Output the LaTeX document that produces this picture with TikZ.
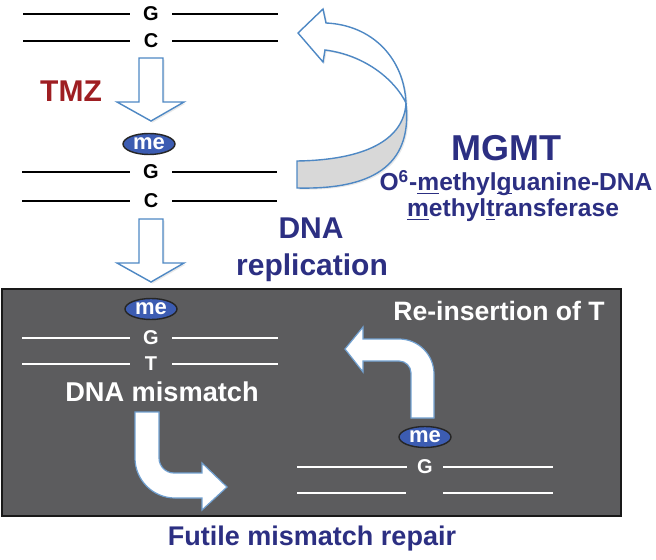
\documentclass[tikz,border=0pt]{standalone}
\usepackage{fontspec}
\setmainfont{Liberation Sans}
\usetikzlibrary{shapes.geometric,shadows}

\definecolor{navy}{RGB}{44,47,130}
\definecolor{tmzred}{RGB}{158,30,34}
\definecolor{arrowblue}{RGB}{78,136,196}
\definecolor{boxgray}{RGB}{92,92,94}
\definecolor{meblue}{RGB}{60,92,178}
\definecolor{ribbon}{RGB}{216,216,216}

\newcommand{\undl}[1]{\underline{\smash{#1}}}

\tikzset{
    strand/.style={line width=0.8pt},
    base/.style={font=\bfseries\fontsize{10}{10}\selectfont, inner sep=0pt, minimum width=21pt},
    meth/.style={ellipse, draw=black!85, line width=0.7pt, fill=meblue, text=white,
        font=\bfseries\fontsize{11}{11}\selectfont, minimum width=26pt, minimum height=10.5pt, inner sep=0pt},
    fatarrow/.style={draw=arrowblue, fill=white, line width=0.7pt, line join=miter,
        drop shadow={opacity=0.18, shadow xshift=0.8pt, shadow yshift=-0.8pt}},
    boxarrow/.style={draw=arrowblue!80, fill=white, line width=0.6pt},
    title/.style={font=\bfseries\fontsize{#1}{#1}\selectfont, text=navy, anchor=base, inner sep=0pt},
}

\begin{document}
\begin{tikzpicture}[x=0.5pt, y=-0.5pt]
    \useasboundingbox (0,0) rectangle (656,560);

    % panel
    \draw[fill=boxgray, draw=black!90, line width=0.7pt] (2,289) rectangle (621,516);

    % G-C pair
    \node[base] (g1) at (151,14) {G};
    \node[base] (c1) at (151,41) {C};
    \draw[strand] (23,14) -- (g1.west) (g1.east) -- (278,14);
    \draw[strand] (23,41) -- (c1.west) (c1.east) -- (278,41);

    \draw[fatarrow] (139,58) -- (163,58) -- (163,102) -- (184,102) -- (151,121) -- (117,102) -- (139,102) -- cycle;
    \node[font=\bfseries\fontsize{15}{15}\selectfont, text=tmzred, anchor=base, inner sep=0pt] (tmz) at (71,102) {TMZ};

    % methylated pair
    \node[meth] (me1) at (149,144) {me};
    \node[base] (g2) at (151,172) {G};
    \node[base] (c2) at (151,201) {C};
    \draw[strand] (22,172) -- (g2.west) (g2.east) -- (277,172);
    \draw[strand] (22,201) -- (c2.west) (c2.east) -- (277,201);

    \draw[fatarrow] (139,219) -- (163,219) -- (163,263) -- (184,263) -- (151,282) -- (117,263) -- (139,263) -- cycle;
    \node[title=15] (dna) at (311,239) {DNA};
    \node[title=15] (repl) at (312,276) {replication};

    % MGMT arrow
    \draw[fatarrow] (298,33) -- (323,9) -- (326,23) .. controls (372,25) and (404,58) .. (406,103)
        .. controls (395,80) and (365,55) .. (325,50) -- (323,62) -- cycle;
    \draw[fatarrow, fill=ribbon] (406,103) .. controls (404,140) and (365,160) .. (297,161) -- (297,188)
        .. controls (380,190) and (412,160) .. (406,103) -- cycle;

    \node[title=18] (mgmt) at (506,161) {MGMT};
    \node[title=12.3] (mgmtname) at (516,191) {O\textsuperscript{6}-\undl{m}ethyl\undl{g}uanine-DNA};
    \node[title=12.3] (mgmtname2) at (513,217) {\undl{m}ethyl\undl{t}ransferase};

    % mismatch
    \node[meth] (me2) at (151,309) {me};
    \node[base, text=white] (g3) at (151,338) {G};
    \node[base, text=white] (t3) at (151,364) {T};
    \draw[strand, white] (22,338) -- (g3.west) (g3.east) -- (278,338);
    \draw[strand, white] (22,364) -- (t3.west) (t3.east) -- (278,364);
    \node[font=\bfseries\fontsize{13.6}{13.6}\selectfont, text=white, anchor=base, inner sep=0pt] (mismatch) at (162,401) {DNA mismatch};

    \draw[boxarrow] (135,412) -- (159,412) -- (159,458) .. controls (159,466.3) and (165.7,473) .. (174,473)
        -- (202,473) -- (202,463) -- (227,487) -- (202,510) -- (202,498) -- (175,498)
        .. controls (153,498) and (135,480) .. (135,458) -- cycle;

    % repair
    \node[font=\bfseries\fontsize{13.3}{13.3}\selectfont, text=white, anchor=base, inner sep=0pt] (reins) at (499,320) {Re-insertion of T};
    \draw[boxarrow] (411,418) -- (411,373) .. controls (411,366.4) and (405.6,361) .. (399,361) -- (363,361)
        -- (363,372) -- (345,349) -- (363,327) -- (363,339) -- (399,339)
        .. controls (418.3,339) and (434,354.7) .. (434,374) -- (434,418) -- cycle;

    \node[meth] (me3) at (425,437) {me};
    \node[base, text=white, minimum width=18pt] (g4) at (425,467) {G};
    \draw[strand, white] (297,467) -- (g4.west) (g4.east) -- (553,467);
    \draw[strand, white] (297,493) -- (406,493) (443,493) -- (553,493);

    \node[title=13.5] (futile) at (312,545) {Futile mismatch repair};

\end{tikzpicture}
\end{document}
